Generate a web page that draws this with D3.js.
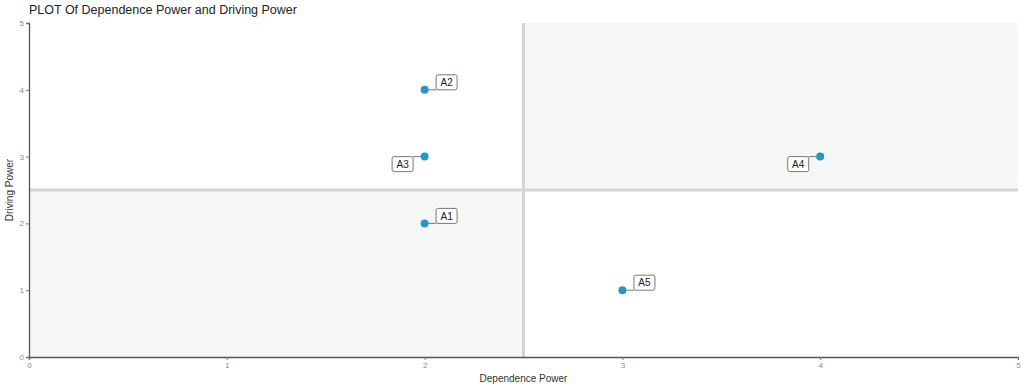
<!DOCTYPE html>
<html lang="en">
<head>
<meta charset="utf-8">
<title>PLOT Of Dependence Power and Driving Power</title>
<script src="https://d3js.org/d3.v7.min.js"></script>
<style>
    body { margin: 0; background: #fff; font-family: "Liberation Sans", Arial, sans-serif; }
    svg text { font-family: "Liberation Sans", Arial, sans-serif; }
</style>
</head>
<body>
<div id="chart"></div>
<script>
// chart data
var labels = ['A1', 'A2', 'A3', 'A4', 'A5'];
var dependence = [2, 2, 2, 4, 3];
var driving = [2, 4, 3, 3, 1];
var tickValues = [0, 1, 2, 3, 4, 5];
// which side the repelled label sits on (1 = up-right, -1 = down-left)
var labelSide = [1, 1, -1, -1, 1];

var width = 1024, height = 390;
var margin = { top: 23, right: 6, bottom: 33, left: 29 };

var svg = d3.select('#chart').append('svg')
    .attr('width', width)
    .attr('height', height);

var x = d3.scaleLinear().domain([0, 5]).range([margin.left, width - margin.right]);
var y = d3.scaleLinear().domain([0, 5]).range([height - margin.bottom, margin.top]);

// shaded quadrants
svg.append('rect')
    .attr('x', x(0)).attr('y', y(2.5))
    .attr('width', x(2.5) - x(0)).attr('height', y(0) - y(2.5))
    .attr('fill', '#f5f6f6');
svg.append('rect')
    .attr('x', x(2.5)).attr('y', y(5))
    .attr('width', x(5) - x(2.5)).attr('height', y(2.5) - y(5))
    .attr('fill', '#f5f6f6');

// dividing lines
svg.append('line')
    .attr('x1', x(0)).attr('x2', x(5))
    .attr('y1', y(2.5)).attr('y2', y(2.5))
    .attr('stroke', '#d4d4d4').attr('stroke-width', 3);
svg.append('line')
    .attr('x1', x(2.5)).attr('x2', x(2.5))
    .attr('y1', y(5)).attr('y2', y(0))
    .attr('stroke', '#d4d4d4').attr('stroke-width', 3);

// axes
var xAxis = svg.append('g')
    .attr('transform', 'translate(0,' + y(0) + ')')
    .call(d3.axisBottom(x).tickValues(tickValues).tickFormat(d3.format('d')).tickSize(3).tickPadding(2));
var yAxis = svg.append('g')
    .attr('transform', 'translate(' + x(0) + ',0)')
    .call(d3.axisLeft(y).tickValues(tickValues).tickFormat(d3.format('d')).tickSize(3).tickPadding(2));

[xAxis, yAxis].forEach(function (g) {
    g.select('.domain').attr('stroke', '#555').attr('stroke-width', 1.3);
    g.selectAll('.tick line').attr('stroke', '#777');
    g.selectAll('.tick text').attr('fill', '#8a8a8a').attr('font-size', '8px');
});

// titles
svg.append('text')
    .attr('x', 29).attr('y', 14)
    .attr('font-size', '12.5px').attr('fill', '#222')
    .text('PLOT Of Dependence Power and Driving Power');
svg.append('text')
    .attr('x', (x(0) + x(5)) / 2).attr('y', 382)
    .attr('text-anchor', 'middle')
    .attr('font-size', '10px').attr('fill', '#333')
    .text('Dependence Power');
svg.append('text')
    .attr('transform', 'translate(13,' + ((y(0) + y(5)) / 2) + ') rotate(-90)')
    .attr('text-anchor', 'middle')
    .attr('font-size', '10px').attr('fill', '#333')
    .text('Driving Power');

// points and repelled labels
var points = labels.map(function (l, i) {
    return { label: l, dep: dependence[i], drv: driving[i], side: labelSide[i] };
});

var boxW = 21, boxH = 15;
var lab = svg.selectAll('.lab')
    .data(points)
    .enter().append('g')
    .attr('class', 'lab');

lab.each(function (d) {
    var g = d3.select(this);
    var px = x(d.dep), py = y(d.drv);
    var cx = px + d.side * 22, cy = py - d.side * 7.5;
    var edgeX = cx - d.side * boxW / 2;
    g.append('line')
        .attr('x1', px).attr('y1', py)
        .attr('x2', edgeX).attr('y2', py)
        .attr('stroke', '#555').attr('stroke-width', 0.8);
    g.append('rect')
        .attr('x', cx - boxW / 2).attr('y', cy - boxH / 2)
        .attr('width', boxW).attr('height', boxH)
        .attr('rx', 2).attr('ry', 2)
        .attr('fill', '#fff').attr('stroke', '#555').attr('stroke-width', 0.8);
    g.append('text')
        .attr('x', cx).attr('y', cy + 3.6)
        .attr('text-anchor', 'middle')
        .attr('font-size', '10px').attr('fill', '#222')
        .text(d.label);
});

svg.selectAll('.dot')
    .data(points)
    .enter().append('circle')
    .attr('class', 'dot')
    .attr('cx', function (d) { return x(d.dep); })
    .attr('cy', function (d) { return y(d.drv); })
    .attr('r', 4)
    .attr('fill', '#2a94c3');
</script>
</body>
</html>
